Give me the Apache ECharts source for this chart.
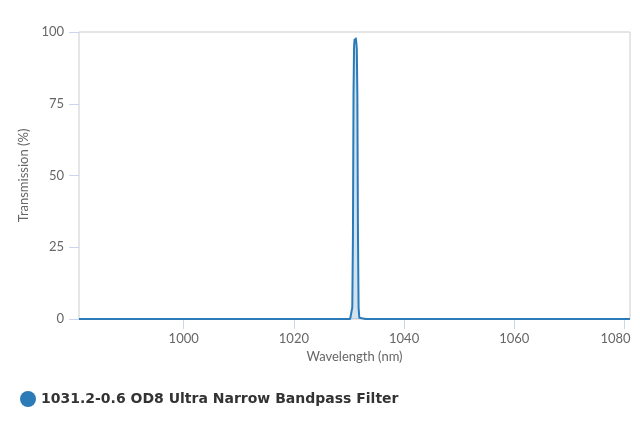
<!DOCTYPE html>
<html><head><meta charset="utf-8">
<script src="https://cdn.jsdelivr.net/npm/echarts@6/dist/echarts.min.js"></script>
<style>html,body{margin:0;padding:0;background:#fff}#c{width:640px;height:427px}</style>
</head><body><div id="c"></div>
<script>
const seriesName = '1031.2-0.6 OD8 Ultra Narrow Bandpass Filter';
const wavelengths = [981, 1000, 1020, 1029, 1030.2, 1030.45, 1030.6, 1030.72, 1030.82, 1030.92, 1031.02, 1031.12, 1031.22, 1031.32, 1031.42, 1031.52, 1031.62, 1031.74, 1031.88, 1032.1, 1033, 1040, 1060, 1081];
const transmission = [0, 0, 0, 0, 0.02, 0.4, 4, 30, 78, 95, 97.5, 96, 98, 96.5, 94, 78, 32, 4, 0.4, 0.02, 0, 0, 0, 0];
const xTicks = [1000, 1020, 1040, 1060, 1080];
const yTicks = [0, 25, 50, 75, 100];

const data = wavelengths.map((w, i) => [w, transmission[i]]);
const labelFont = { color: '#666', fontSize: 13, fontFamily: 'Lato' };
const chart = echarts.init(document.getElementById('c'));
chart.setOption({
  animation: false,
  grid: { left: 79, right: 10, top: 32, bottom: 108, show: true, borderColor: '#cccccc', borderWidth: 1 },
  xAxis: {
    type: 'value', min: 981, max: 1081, interval: 20,
    name: 'Wavelength (nm)', nameLocation: 'middle', nameGap: 30,
    nameTextStyle: labelFont,
    axisLine: { show: false },
    axisTick: { show: true, length: 10, lineStyle: { color: '#ccd6eb' }, customValues: xTicks },
    axisLabel: Object.assign({}, labelFont, { margin: 13, customValues: xTicks,
      formatter: v => v === xTicks[xTicks.length - 1] ? '{edge|' + v + '}' : String(v),
      rich: { edge: Object.assign({}, labelFont, { padding: [0, 18, 0, 0] }) } }),
    splitLine: { show: false }
  },
  yAxis: {
    type: 'value', min: 0, max: 100, interval: 25,
    name: 'Transmission (%)', nameLocation: 'middle', nameGap: 47,
    nameTextStyle: labelFont,
    axisLine: { show: false },
    axisTick: { show: true, inside: false, length: 10, lineStyle: { color: '#ccd6eb' } },
    axisLabel: Object.assign({}, labelFont, { margin: 15,
      formatter: v => yTicks.includes(v) ? String(v) : '' }),
    splitLine: { show: false }
  },
  legend: {
    left: 15, top: 386, icon: 'circle', itemWidth: 16, itemHeight: 16, itemGap: 4,
    textStyle: { color: '#333', fontSize: 14, fontWeight: 'bold', fontFamily: 'DejaVu Sans' },
    data: [seriesName]
  },
  series: [{
    name: seriesName, type: 'line', data: data, showSymbol: false, symbol: 'none',
    lineStyle: { color: '#2b7bb9', width: 2 },
    itemStyle: { color: '#2b7bb9' },
    areaStyle: { color: 'rgba(43,123,185,0.3)' }
  }]
});
</script></body></html>
